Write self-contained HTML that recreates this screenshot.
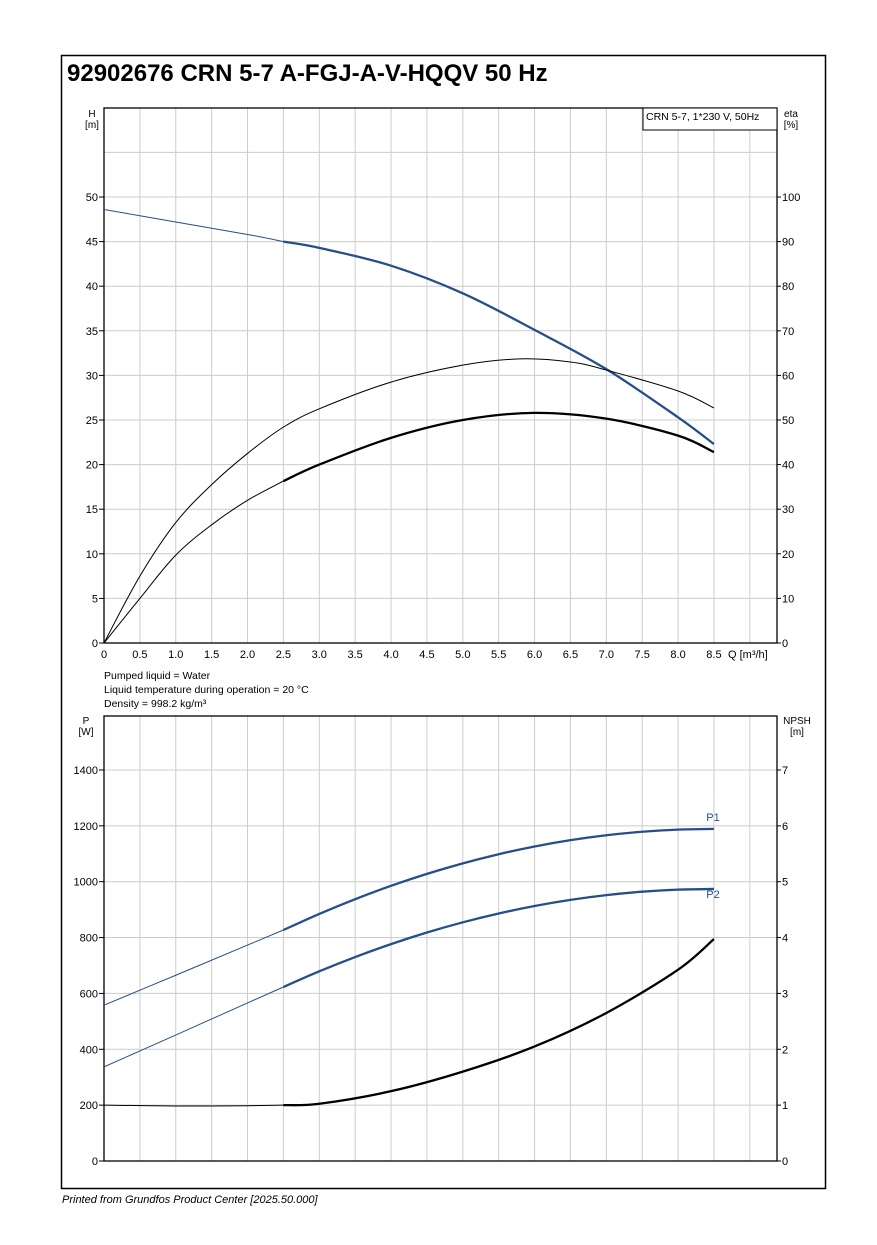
<!DOCTYPE html>
<html><head><meta charset="utf-8"><style>
body{margin:0;background:#fff}
svg{display:block;font-family:"Liberation Sans",sans-serif}
</style></head><body>
<svg id="s" width="877" height="1245" xmlns="http://www.w3.org/2000/svg">
<rect x="0" y="0" width="877" height="1245" fill="#fff"/>
<rect x="61.5" y="55.5" width="764" height="1133" fill="none" stroke="#000" stroke-width="1.5"/>
<text x="67" y="81" font-size="24" font-weight="bold">92902676 CRN 5-7 A-FGJ-A-V-HQQV 50 Hz</text>
<g id="g"></g>
<text x="62" y="1203" font-size="11" font-style="italic">Printed from Grundfos Product Center [2025.50.000]</text>
</svg>
<script>
var g=document.getElementById('g'),h='';
function X(q){return 104+71.76*q}
for(var i=1;i<=18;i++){var x=X(i*0.5);h+='<line x1="'+x+'" y1="108" x2="'+x+'" y2="643" stroke="#ccc" stroke-width="1"/>';h+='<line x1="'+x+'" y1="716" x2="'+x+'" y2="1161" stroke="#ccc" stroke-width="1"/>';}
for(var i=1;i<=11;i++){var y=643-44.6*i;h+='<line x1="104" y1="'+y+'" x2="777" y2="'+y+'" stroke="#ccc"/>';}
for(var i=1;i<=7;i++){var y=1161-55.86*i;h+='<line x1="104" y1="'+y+'" x2="777" y2="'+y+'" stroke="#ccc"/>';}
h+='<rect x="104" y="108" width="673" height="535" fill="none" stroke="#000" stroke-width="1.3"/>';
h+='<rect x="104" y="716" width="673" height="445" fill="none" stroke="#000" stroke-width="1.3"/>';
h+='<rect x="643" y="108" width="134" height="22" fill="#fff" stroke="#000"/><text x="646" y="120" font-size="10.5">CRN 5-7, 1*230 V, 50Hz</text>';
h+='<text x="92" y="117" font-size="10" text-anchor="middle">H</text><text x="92" y="128" font-size="10" text-anchor="middle">[m]</text>';
h+='<text x="791" y="117" font-size="10" text-anchor="middle">eta</text><text x="791" y="128" font-size="10" text-anchor="middle">[%]</text>';
for(var i=0;i<=10;i++){var y=643-44.6*i;h+='<text x="98" y="'+(y+4)+'" font-size="11" text-anchor="end">'+(i*5)+'</text><line x1="99" y1="'+y+'" x2="104" y2="'+y+'" stroke="#000"/>';
h+='<text x="782" y="'+(y+4)+'" font-size="11">'+(i*10)+'</text><line x1="777" y1="'+y+'" x2="781" y2="'+y+'" stroke="#000"/>';}
for(var i=0;i<=17;i++){var x=X(i*0.5),t=i==0?'0':(i*0.5).toFixed(1);h+='<text x="'+x+'" y="658" font-size="11" text-anchor="middle">'+t+'</text>';}
h+='<text x="728" y="658" font-size="11">Q [m³/h]</text>';
h+='<text x="104" y="679" font-size="10.5">Pumped liquid = Water</text><text x="104" y="693" font-size="10.5">Liquid temperature during operation = 20 °C</text><text x="104" y="707" font-size="10.5">Density = 998.2 kg/m³</text>';
h+='<text x="86" y="724" font-size="10" text-anchor="middle">P</text><text x="86" y="735" font-size="10" text-anchor="middle">[W]</text>';
h+='<text x="797" y="724" font-size="10" text-anchor="middle">NPSH</text><text x="797" y="735" font-size="10" text-anchor="middle">[m]</text>';
for(var i=0;i<=7;i++){var y=1161-55.86*i;h+='<text x="98" y="'+(y+4)+'" font-size="11" text-anchor="end">'+(i*200)+'</text><line x1="99" y1="'+y+'" x2="104" y2="'+y+'" stroke="#000"/>';
h+='<text x="782" y="'+(y+4)+'" font-size="11">'+i+'</text><line x1="777" y1="'+y+'" x2="781" y2="'+y+'" stroke="#000"/>';}
function spl(pts){var d='M'+pts[0][0]+','+pts[0][1];for(var i=0;i<pts.length-1;i++){var p0=pts[i-1]||pts[i],p1=pts[i],p2=pts[i+1],p3=pts[i+2]||p2;
d+=' C'+(p1[0]+(p2[0]-p0[0])/6)+','+(p1[1]+(p2[1]-p0[1])/6)+' '+(p2[0]-(p3[0]-p1[0])/6)+','+(p2[1]-(p3[1]-p1[1])/6)+' '+p2[0]+','+p2[1];}return d;}
function curve(data,yf,col){var thin=[],thick=[];data.forEach(function(p){var pt=[X(p[0]),yf(p[1])];if(p[0]<=2.5)thin.push(pt);if(p[0]>=2.5)thick.push(pt);});
h+='<path d="'+spl(thin)+'" fill="none" stroke="'+col+'" stroke-width="1"/>';h+='<path d="'+spl(thick)+'" fill="none" stroke="'+col+'" stroke-width="2.3"/>';}
function curveThin(data,yf,col){h+='<path d="'+spl(data.map(function(p){return[X(p[0]),yf(p[1])]}))+'" fill="none" stroke="'+col+'" stroke-width="1"/>';}
var Hy=function(v){return 643-8.92*v},Ey=function(v){return 643-4.46*v},Py=function(v){return 1161-0.2793*v};
curve([[0,48.6],[1,47.2],[2,45.8],[2.5,45],[3,44.3],[4,42.3],[5,39.2],[6,35.1],[7,30.7],[8,25.3],[8.5,22.3]],Hy,'#264f8a');
curveThin([[0,0],[0.5,15],[1,27],[1.5,35.5],[2,42.5],[2.5,48.4],[3,52.5],[4,58.5],[5,62.3],[5.8,63.7],[6.5,63],[7,61.2],[8,56.5],[8.5,52.7]],Ey,'#000');
curve([[0,0],[0.5,10],[1,19.7],[1.5,26.5],[2,32],[2.5,36.3],[3,40],[4,46],[5,50],[6,51.6],[7,50.3],[8,46.5],[8.5,42.8]],Ey,'#000');
var p1=[[0,558],[1,665],[2,773],[2.5,827]],p2=[[0,337],[1,451],[2,566],[2.5,623]];
for(var q=3;q<=8.5;q+=0.5){p1.push([q,1189-10.06*Math.pow(8.5-q,2)]);p2.push([q,974-9.75*Math.pow(8.5-q,2)]);}
curve(p1,Py,'#264f8a');curve(p2,Py,'#264f8a');
curve([[0,200],[1,197],[1.5,197],[2,198],[2.5,200],[3,205],[4,250],[5,320],[6,410],[7,530],[8,685],[8.5,795]],Py,'#000');
h+='<text x="713" y="821" font-size="11" fill="#264f8a" text-anchor="middle">P1</text><text x="713" y="898" font-size="11" fill="#264f8a" text-anchor="middle">P2</text>';
g.innerHTML=h;
</script>
</body></html>
